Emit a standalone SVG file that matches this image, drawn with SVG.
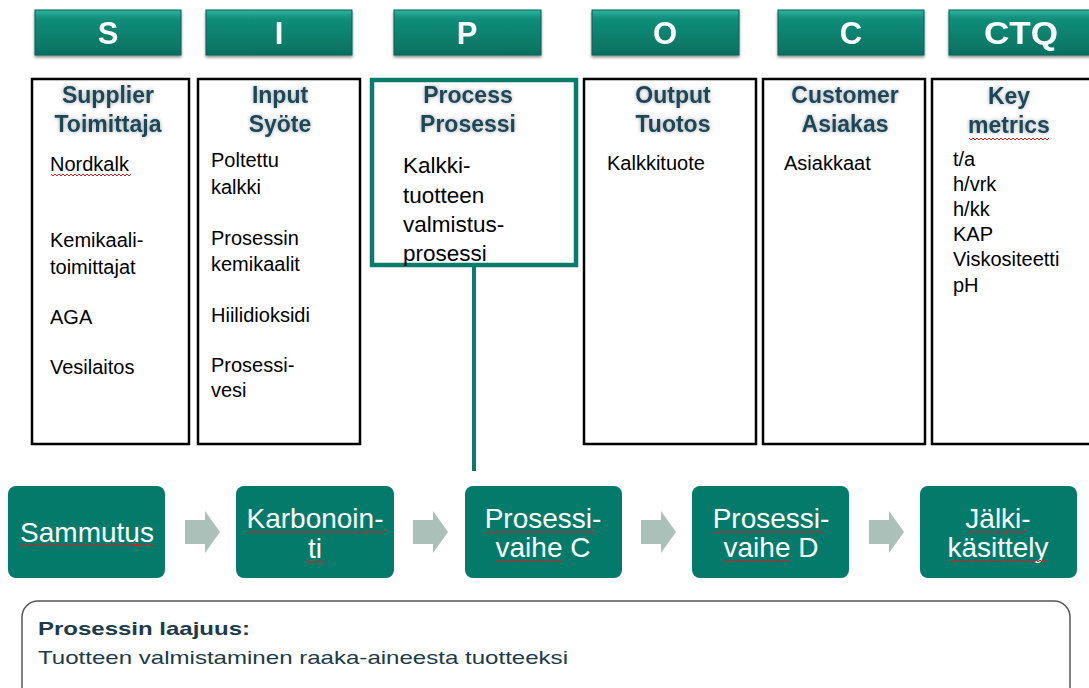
<svg xmlns="http://www.w3.org/2000/svg" width="1089" height="688" viewBox="0 0 1089 688">
  <defs>
    <linearGradient id="btnGrad" x1="0" y1="0" x2="0" y2="1">
      <stop offset="0" stop-color="#2bb8a0"/>
      <stop offset="0.18" stop-color="#128f7b"/>
      <stop offset="1" stop-color="#05705f"/>
    </linearGradient>
    <filter id="btnShadow" x="-10%" y="-20%" width="120%" height="150%">
      <feGaussianBlur in="SourceAlpha" stdDeviation="1.6"/>
      <feOffset dx="0" dy="2" result="b"/>
      <feComponentTransfer><feFuncA type="linear" slope="0.45"/></feComponentTransfer>
      <feMerge><feMergeNode/><feMergeNode in="SourceGraphic"/></feMerge>
    </filter>
    <filter id="headGlow" x="-20%" y="-40%" width="140%" height="180%">
      <feGaussianBlur in="SourceAlpha" stdDeviation="2"/>
      <feComponentTransfer><feFuncA type="linear" slope="0.35"/></feComponentTransfer>
      <feMerge><feMergeNode/><feMergeNode in="SourceGraphic"/></feMerge>
    </filter>
    <!-- spell-check squiggle, 20px long -->
    <path id="wave" d="M0,0 l2,2 l2,-2 l2,2 l2,-2 l2,2 l2,-2 l2,2 l2,-2 l2,2 l2,-2"/>
  </defs>
  <style>
    .btn { fill: url(#btnGrad); stroke: #0a5f52; stroke-width: 1; }
    .btnTxt { font-family: "Liberation Sans", Arial, sans-serif; font-weight: bold; font-size: 31px; fill: #ffffff; text-anchor: middle; }
    .col { fill: #ffffff; stroke: #000000; stroke-width: 2.5; }
    .colP { fill: #ffffff; stroke: #0a7a6a; stroke-width: 4.5; }
    .head { font-family: "Liberation Sans", Arial, sans-serif; font-weight: bold; font-size: 23px; fill: #1c4658; text-anchor: middle; }
    .item { font-family: "Liberation Sans", Arial, sans-serif; font-size: 20px; fill: #000000; }
    .itemP { font-family: "Liberation Sans", Arial, sans-serif; font-size: 22.5px; fill: #000000; }
    .step { fill: #047a6a; }
    .stepTxt { font-family: "Liberation Sans", Arial, sans-serif; font-size: 28px; fill: #ffffff; text-anchor: middle; }
    .flow { fill: #abc0b9; }
    .link { stroke: #0a7a6a; stroke-width: 4; fill: none; }
    .spell { fill: none; stroke: #d02020; stroke-width: 1; }
    .scope { fill: #ffffff; stroke: #555555; stroke-width: 1.5; }
    .scopeHead { font-family: "Liberation Sans", Arial, sans-serif; font-weight: bold; font-size: 19px; fill: #1c3a48; }
    .scopeTxt { font-family: "Liberation Sans", Arial, sans-serif; font-size: 19px; fill: #1c3a48; }
  </style>

  <rect width="1089" height="688" fill="#ffffff"/>

  <!-- SIPOC letter buttons -->
  <g id="btn-s" filter="url(#btnShadow)"><rect class="btn" x="35" y="10" width="146" height="45"/><text class="btnTxt" x="108" y="44">S</text></g>
  <g id="btn-i" filter="url(#btnShadow)"><rect class="btn" x="206" y="10" width="146" height="45"/><text class="btnTxt" x="279" y="44">I</text></g>
  <g id="btn-p" filter="url(#btnShadow)"><rect class="btn" x="394" y="10" width="147" height="45"/><text class="btnTxt" x="467" y="44">P</text></g>
  <g id="btn-o" filter="url(#btnShadow)"><rect class="btn" x="592" y="10" width="147" height="45"/><text class="btnTxt" x="665" y="44">O</text></g>
  <g id="btn-c" filter="url(#btnShadow)"><rect class="btn" x="778" y="10" width="146" height="45"/><text class="btnTxt" x="851" y="44">C</text></g>
  <g id="btn-ctq" filter="url(#btnShadow)"><rect class="btn" x="949" y="10" width="146" height="45"/><text class="btnTxt" x="1021" y="44" textLength="74" lengthAdjust="spacingAndGlyphs">CTQ</text></g>

  <!-- Connector from process column to process steps, and flow arrows -->
  <g id="connectors">
    <line class="link" x1="474" y1="265" x2="474" y2="471"/>
    <path class="flow" d="M185,520 H205 V511 L220,532 L205,553 V544 H185 Z"/>
    <path class="flow" d="M413,520 H433 V511 L448,532 L433,553 V544 H413 Z"/>
    <path class="flow" d="M641,520 H661 V511 L676,532 L661,553 V544 H641 Z"/>
    <path class="flow" d="M869,520 H889 V511 L904,532 L889,553 V544 H869 Z"/>
  </g>

  <!-- Supplier column -->
  <g id="col-supplier">
    <rect class="col" x="32" y="79" width="157" height="365"/>
    <text class="head" x="108" y="103" filter="url(#headGlow)">Supplier</text>
    <text class="head" x="108" y="132" filter="url(#headGlow)">Toimittaja</text>
    <text class="item" x="50" y="171">Nordkalk</text>
    <use href="#wave" class="spell" x="51" y="174"/>
    <use href="#wave" class="spell" x="71" y="174"/>
    <use href="#wave" class="spell" x="91" y="174"/>
    <use href="#wave" class="spell" x="111" y="174"/>
    <text class="item" x="50" y="247">Kemikaali-</text>
    <text class="item" x="50" y="274">toimittajat</text>
    <text class="item" x="50" y="324">AGA</text>
    <text class="item" x="50" y="374">Vesilaitos</text>
  </g>

  <!-- Input column -->
  <g id="col-input">
    <rect class="col" x="198" y="79" width="162" height="365"/>
    <text class="head" x="280" y="103" filter="url(#headGlow)">Input</text>
    <text class="head" x="280" y="132" filter="url(#headGlow)">Syöte</text>
    <text class="item" x="211" y="167">Poltettu</text>
    <text class="item" x="211" y="194">kalkki</text>
    <text class="item" x="211" y="245">Prosessin</text>
    <text class="item" x="211" y="271">kemikaalit</text>
    <text class="item" x="211" y="322">Hiilidioksidi</text>
    <text class="item" x="211" y="372">Prosessi-</text>
    <text class="item" x="211" y="397">vesi</text>
  </g>

  <!-- Process column (highlighted) -->
  <g id="col-process">
    <rect class="colP" x="372" y="80" width="204" height="185"/>
    <text class="head" x="468" y="103" filter="url(#headGlow)">Process</text>
    <text class="head" x="468" y="132" filter="url(#headGlow)">Prosessi</text>
    <text class="itemP" x="403" y="173">Kalkki-</text>
    <text class="itemP" x="403" y="203">tuotteen</text>
    <text class="itemP" x="403" y="232">valmistus-</text>
    <text class="itemP" x="403" y="261">prosessi</text>
  </g>

  <!-- Output column -->
  <g id="col-output">
    <rect class="col" x="584" y="79" width="172" height="365"/>
    <text class="head" x="673" y="103" filter="url(#headGlow)">Output</text>
    <text class="head" x="673" y="132" filter="url(#headGlow)">Tuotos</text>
    <text class="item" x="607" y="170">Kalkkituote</text>
  </g>

  <!-- Customer column -->
  <g id="col-customer">
    <rect class="col" x="763" y="79" width="162" height="365"/>
    <text class="head" x="845" y="103" filter="url(#headGlow)">Customer</text>
    <text class="head" x="845" y="132" filter="url(#headGlow)">Asiakas</text>
    <text class="item" x="784" y="170">Asiakkaat</text>
  </g>

  <!-- Key metrics column -->
  <g id="col-metrics">
    <rect class="col" x="932" y="79" width="162" height="365"/>
    <text class="head" x="1009" y="104" filter="url(#headGlow)">Key</text>
    <text class="head" x="1009" y="133" filter="url(#headGlow)">metrics</text>
    <use href="#wave" class="spell" x="969" y="138"/>
    <use href="#wave" class="spell" x="989" y="138"/>
    <use href="#wave" class="spell" x="1009" y="138"/>
    <use href="#wave" class="spell" x="1029" y="138"/>
    <text class="item" x="953" y="166">t/a</text>
    <text class="item" x="953" y="191">h/vrk</text>
    <text class="item" x="953" y="216">h/kk</text>
    <text class="item" x="953" y="241">KAP</text>
    <text class="item" x="953" y="266">Viskositeetti</text>
    <text class="item" x="953" y="292">pH</text>
  </g>

  <!-- Process steps -->
  <g id="step-sammutus">
    <rect class="step" x="8" y="486" width="157" height="92" rx="8"/>
    <text class="stepTxt" x="87" y="542">Sammutus</text>
    <use href="#wave" class="spell" x="20" y="544"/>
    <use href="#wave" class="spell" x="40" y="544"/>
    <use href="#wave" class="spell" x="60" y="544"/>
    <use href="#wave" class="spell" x="80" y="544"/>
    <use href="#wave" class="spell" x="100" y="544"/>
    <use href="#wave" class="spell" x="120" y="544"/>
    <use href="#wave" class="spell" x="134" y="544"/>
  </g>
  <g id="step-karbonointi">
    <rect class="step" x="236" y="486" width="158" height="92" rx="8"/>
    <text class="stepTxt" x="315" y="528">Karbonoin-</text>
    <text class="stepTxt" x="315" y="558">ti</text>
    <use href="#wave" class="spell" x="247" y="531"/>
    <use href="#wave" class="spell" x="267" y="531"/>
    <use href="#wave" class="spell" x="287" y="531"/>
    <use href="#wave" class="spell" x="307" y="531"/>
    <use href="#wave" class="spell" x="327" y="531"/>
    <use href="#wave" class="spell" x="347" y="531"/>
    <use href="#wave" class="spell" x="365" y="531"/>
    <use href="#wave" class="spell" x="306" y="561"/>
  </g>
  <g id="step-vaihe-c">
    <rect class="step" x="465" y="486" width="157" height="92" rx="8"/>
    <text class="stepTxt" x="543" y="528">Prosessi-</text>
    <text class="stepTxt" x="543" y="557">vaihe C</text>
    <use href="#wave" class="spell" x="485" y="531"/>
    <use href="#wave" class="spell" x="505" y="531"/>
    <use href="#wave" class="spell" x="525" y="531"/>
    <use href="#wave" class="spell" x="545" y="531"/>
    <use href="#wave" class="spell" x="565" y="531"/>
    <use href="#wave" class="spell" x="576" y="531"/>
    <use href="#wave" class="spell" x="495" y="560"/>
    <use href="#wave" class="spell" x="515" y="560"/>
    <use href="#wave" class="spell" x="535" y="560"/>
    <use href="#wave" class="spell" x="542" y="560"/>
  </g>
  <g id="step-vaihe-d">
    <rect class="step" x="692" y="486" width="157" height="92" rx="8"/>
    <text class="stepTxt" x="771" y="528">Prosessi-</text>
    <text class="stepTxt" x="771" y="557">vaihe D</text>
    <use href="#wave" class="spell" x="713" y="531"/>
    <use href="#wave" class="spell" x="733" y="531"/>
    <use href="#wave" class="spell" x="753" y="531"/>
    <use href="#wave" class="spell" x="773" y="531"/>
    <use href="#wave" class="spell" x="793" y="531"/>
    <use href="#wave" class="spell" x="804" y="531"/>
    <use href="#wave" class="spell" x="723" y="560"/>
    <use href="#wave" class="spell" x="743" y="560"/>
    <use href="#wave" class="spell" x="763" y="560"/>
    <use href="#wave" class="spell" x="770" y="560"/>
  </g>
  <g id="step-jalki">
    <rect class="step" x="920" y="486" width="157" height="92" rx="8"/>
    <text class="stepTxt" x="998" y="528">Jälki-</text>
    <text class="stepTxt" x="998" y="557">käsittely</text>
    <use href="#wave" class="spell" x="967" y="531"/>
    <use href="#wave" class="spell" x="987" y="531"/>
    <use href="#wave" class="spell" x="1005" y="531"/>
    <use href="#wave" class="spell" x="949" y="560"/>
    <use href="#wave" class="spell" x="969" y="560"/>
    <use href="#wave" class="spell" x="989" y="560"/>
    <use href="#wave" class="spell" x="1009" y="560"/>
    <use href="#wave" class="spell" x="1028" y="560"/>
  </g>

  <!-- Scope note -->
  <g id="scope">
    <rect class="scope" x="22" y="601" width="1048" height="110" rx="16"/>
    <text class="scopeHead" x="38" y="635" textLength="212" lengthAdjust="spacingAndGlyphs">Prosessin laajuus:</text>
    <text class="scopeTxt" x="38" y="664" textLength="530" lengthAdjust="spacingAndGlyphs">Tuotteen valmistaminen raaka-aineesta tuotteeksi</text>
  </g>
</svg>
